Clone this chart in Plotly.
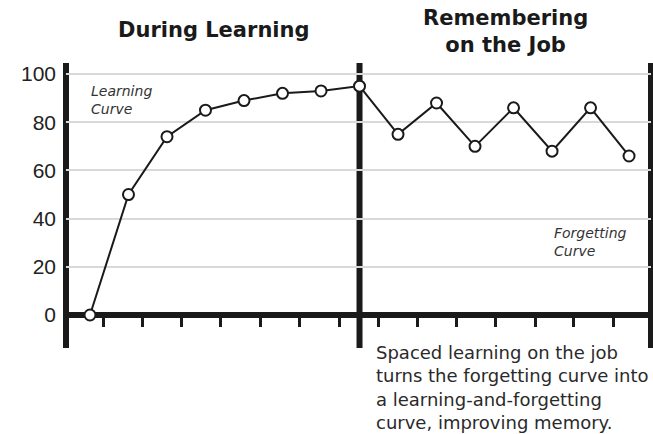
import plotly.graph_objects as go

# ---- data ----
sessions = list(range(15))
retention = [0, 50, 74, 85, 89, 92, 93, 95, 75, 88, 70, 86, 68, 86, 66]
divider_index = 7
y_tick_values = [0, 20, 40, 60, 80, 100]
y_tick_labels = ["0", "20", "40", "60", "80", "100"]
x_tick_positions = [0.34, 1.37, 2.38, 3.39, 4.43, 5.45, 6.47,
                    7.49, 8.51, 9.52, 10.54, 11.57, 12.57, 13.59]
title_left = "During Learning"
title_right = "Remembering<br>on the Job"
label_learning = "Learning<br>Curve"
label_forgetting = "Forgetting<br>Curve"
caption = ("Spaced learning on the job<br>turns the forgetting curve into<br>"
           "a learning-and-forgetting<br>curve, improving memory.")

# ---- layout geometry ----
W, H = 653, 434
ML, MR, MT, MB = 66, 2, 63, 86
Y_RANGE = [-13.7, 104.6]
X_RANGE = [-0.623, 14.57]
PW, PH = W - ML - MR, H - MT - MB


def px_x(px):
    return (px - ML) / PW


def px_y(py):
    return 1 - (py - MT) / PH


INK = "#1a1a1a"

fig = go.Figure()
fig.add_trace(go.Scatter(
    x=sessions, y=retention, mode="lines+markers",
    line=dict(color=INK, width=2),
    marker=dict(size=11, color="white", line=dict(color=INK, width=2)),
    cliponaxis=False, hoverinfo="skip", showlegend=False,
))

# frame: left edge, right edge and the divider between the two phases
for xref, xv in (("paper", 0), ("paper", 1), ("x", divider_index)):
    fig.add_shape(type="line", xref=xref, yref="paper",
                  x0=xv, x1=xv, y0=0, y1=1,
                  line=dict(color=INK, width=6), layer="between")

zero_pos = (0 - Y_RANGE[0]) / (Y_RANGE[1] - Y_RANGE[0])

fig.update_layout(
    width=W, height=H, autosize=False, showlegend=False,
    margin=dict(l=ML, r=MR, t=MT, b=MB, pad=0, autoexpand=False),
    paper_bgcolor="white", plot_bgcolor="white",
    xaxis=dict(range=X_RANGE, anchor="free", position=zero_pos,
               showgrid=False, zeroline=False, showline=False,
               tickvals=x_tick_positions, ticks="outside", ticklen=11,
               tickwidth=2.5, tickcolor=INK, showticklabels=False,
               automargin=False, fixedrange=True),
    yaxis=dict(range=Y_RANGE, tickvals=y_tick_values, ticktext=y_tick_labels,
               showgrid=True, gridcolor="#d9d9d9", gridwidth=1.5,
               zeroline=True, zerolinecolor=INK, zerolinewidth=6,
               showline=False,
               ticks="", tickfont=dict(family="Liberation Sans, Arial", size=21, color="#222222"),
               ticklabelstandoff=9, automargin=False, fixedrange=True),
    font=dict(family="DejaVu Sans", color="#222222"),
)

ann = []
ann.append(dict(text="<b>" + title_left + "</b>", x=px_x(213.5), y=px_y(30),
                xanchor="center", yanchor="middle",
                font=dict(family="DejaVu Sans", size=21, color="#1a1a1a")))
ann.append(dict(text="<b>" + title_right + "</b>", x=px_x(505), y=px_y(31),
                xanchor="center", yanchor="middle",
                font=dict(family="DejaVu Sans", size=21, color="#1a1a1a")))
ann.append(dict(text="<i>" + label_learning + "</i>", x=px_x(90), y=px_y(82),
                xanchor="left", yanchor="top", align="left",
                font=dict(family="DejaVu Sans", size=14, color="#333333")))
ann.append(dict(text="<i>" + label_forgetting + "</i>", x=px_x(553), y=px_y(224),
                xanchor="left", yanchor="top", align="left",
                font=dict(family="DejaVu Sans", size=14, color="#333333")))
ann.append(dict(text=caption, x=px_x(375), y=px_y(341),
                xanchor="left", yanchor="top", align="left",
                font=dict(family="DejaVu Sans", size=18, color="#2a2a2a")))
for a in ann:
    a.update(xref="paper", yref="paper", showarrow=False, borderpad=0)
fig.update_layout(annotations=ann)

fig.write_html("out.html")
